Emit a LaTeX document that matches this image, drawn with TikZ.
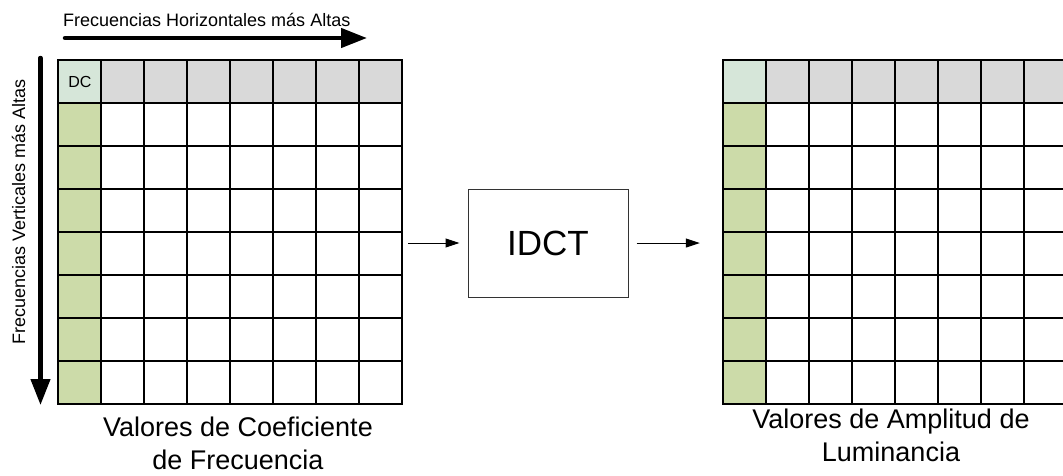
\documentclass[tikz,border=0pt]{standalone}
\usepackage{fontspec}
\setmainfont{Liberation Sans}
\usetikzlibrary{arrows.meta}
\definecolor{hdrgray}{HTML}{D9D9D9}
\definecolor{dcmint}{HTML}{D6E6D9}
\definecolor{colgreen}{HTML}{CCDBA9}

% 8x8 block of cells whose top-left corner is at (#1,60), cells 43 units wide
\newcommand\blockgrid[1]{%
  \fill[hdrgray] (#1,60) rectangle ({#1+344},103);
  \fill[colgreen] (#1,103) rectangle ({#1+43},404);
  \fill[dcmint] (#1,60) rectangle ({#1+43},103);
  \foreach \i in {1,...,7}{
    \draw[gridline] ({#1+43*\i},60) -- ({#1+43*\i},404);
    \draw[gridline] (#1,{60+43*\i}) -- ({#1+344},{60+43*\i});
  }
  \draw[gridline] (#1,60) rectangle ({#1+344},404);
}

\begin{document}
\begin{tikzpicture}[x=1pt,y=-1pt,
  gridline/.style={line width=1.4pt, draw=black},
  flow/.style={line width=1pt, -{Triangle[length=14pt,width=9pt]}},
  axis/.style={line width=4.5pt, line cap=round, -{Triangle[length=26pt,width=19pt]}},
  proc/.style={draw=black!80, line width=1pt, minimum width=160pt, minimum height=108pt,
               inner sep=0pt, font=\fontsize{35}{42}\selectfont},
  area/.style={minimum size=344pt, inner sep=0pt},
  small/.style={inner sep=0pt, font=\fontsize{18}{22}\selectfont},
  caption/.style={anchor=north, align=center, inner sep=0pt, font=\fontsize{27}{33}\selectfont}
]
\useasboundingbox (0,0) rectangle (1063,475);
\clip (0,0) rectangle (1063,475);

% coefficient block and luminance block
\blockgrid{58}
\blockgrid{723}
\node[area] (lgrid) at (230,232) {};
\node[area] (rgrid) at (895,232) {};
\node[inner sep=0pt, font=\fontsize{16}{19}\selectfont] (dc) at (80,81.5) {DC};

% frequency axes
\coordinate (hs) at (65,38);
\coordinate (he) at (367,38);
\draw[axis] (hs) -- (he);
\node[small, anchor=base west] (htitle) at (63,26) {Frecuencias Horizontales más Altas};

\coordinate (vs) at (40.5,58);
\coordinate (ve) at (40.5,405);
\draw[axis] (vs) -- (ve);
\node[small, rotate=90, anchor=base west] (vtitle) at (25,345) {Frecuencias Verticales más Altas};

% transform
\node[proc] (idct) at (548,243) {IDCT};
\draw[flow, shorten <=6pt, shorten >=8pt] (idct.west -| lgrid.east) -- (idct.west);
\draw[flow, shorten <=8pt, shorten >=23pt] (idct.east) -- (idct.east -| rgrid.west);

% captions
\node[caption] (lcap) at (238,417) {Valores de Coeficiente\\de Frecuencia};
\node[caption] (rcap) at (891,409) {Valores de Amplitud de\\Luminancia};
\end{tikzpicture}
\end{document}
